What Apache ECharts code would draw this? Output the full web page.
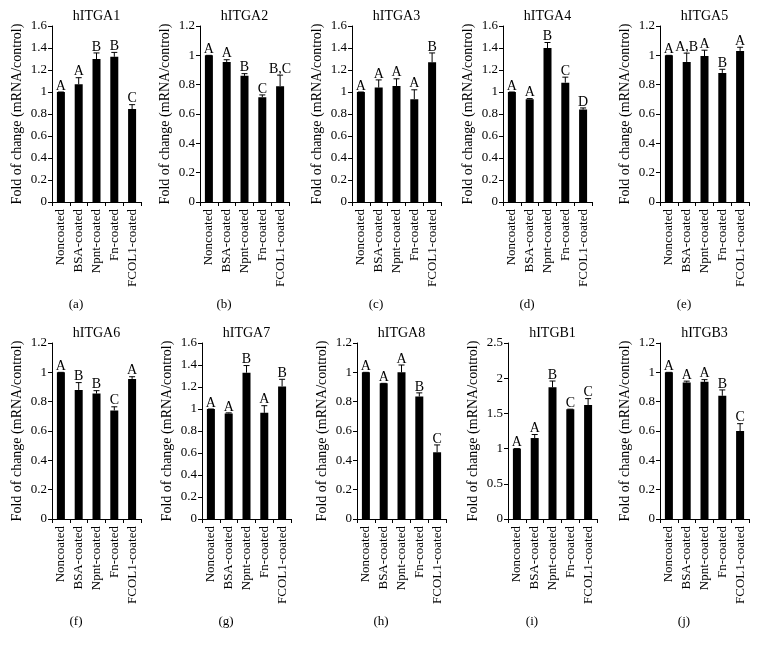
<!DOCTYPE html>
<html><head><meta charset="utf-8">
<script src="https://cdn.jsdelivr.net/npm/echarts@6/dist/echarts.min.js"></script>
<style>html,body{margin:0;padding:0;background:#fff}#c{width:758px;height:649px}</style>
</head><body><div id="c"></div>
<script>
const categories = ['Noncoated','BSA-coated','Npnt-coated','Fn-coated','FCOL1-coated'];
const genes = ['hITGA1','hITGA2','hITGA3','hITGA4','hITGA5','hITGA6','hITGA7','hITGA8','hITGB1','hITGB3'];
const panelLabels = ['(a)','(b)','(c)','(d)','(e)','(f)','(g)','(h)','(i)','(j)'];
const yMax = [1.6,1.2,1.6,1.6,1.2,1.2,1.6,1.2,2.5,1.2];
const yInterval = [0.2,0.2,0.2,0.2,0.2,0.2,0.2,0.2,0.5,0.2];

const hITGA1_mean = [1.0,1.07,1.30,1.32,0.845];
const hITGA1_err  = [1.0,1.13,1.355,1.36,0.885];
const hITGA1_sig  = ['A','A','B','B','C'];
const hITGA2_mean = [1.0,0.955,0.86,0.715,0.79];
const hITGA2_err  = [1.0,0.97,0.875,0.73,0.865];
const hITGA2_sig  = ['A','A','B','C','B,C'];
const hITGA3_mean = [1.0,1.04,1.055,0.935,1.27];
const hITGA3_err  = [1.0,1.11,1.12,1.02,1.355];
const hITGA3_sig  = ['A','A','A','A','B'];
const hITGA4_mean = [1.0,0.935,1.40,1.085,0.84];
const hITGA4_err  = [1.0,0.94,1.45,1.135,0.855];
const hITGA4_sig  = ['A','A','B','C','D'];
const hITGA5_mean = [1.0,0.955,0.995,0.88,1.03];
const hITGA5_err  = [1.0,1.015,1.035,0.905,1.055];
const hITGA5_sig  = ['A','A,B','A','B','A'];
const hITGA6_mean = [1.0,0.88,0.855,0.74,0.955];
const hITGA6_err  = [1.0,0.93,0.875,0.765,0.97];
const hITGA6_sig  = ['A','B','B','C','A'];
const hITGA7_mean = [1.0,0.96,1.33,0.965,1.205];
const hITGA7_err  = [1.0,0.965,1.395,1.03,1.27];
const hITGA7_sig  = ['A','A','B','A','B'];
const hITGA8_mean = [1.0,0.925,1.0,0.835,0.455];
const hITGA8_err  = [1.0,0.925,1.05,0.86,0.505];
const hITGA8_sig  = ['A','A','A','B','C'];
const hITGB1_mean = [1.0,1.15,1.87,1.56,1.62];
const hITGB1_err  = [1.0,1.20,1.96,1.56,1.71];
const hITGB1_sig  = ['A','A','B','C','C'];
const hITGB3_mean = [1.0,0.93,0.935,0.84,0.60];
const hITGB3_err  = [1.0,0.94,0.95,0.88,0.65];
const hITGB3_sig  = ['A','A','A','B','C'];

const means = [hITGA1_mean,hITGA2_mean,hITGA3_mean,hITGA4_mean,hITGA5_mean,hITGA6_mean,hITGA7_mean,hITGA8_mean,hITGB1_mean,hITGB3_mean];
const errs = [hITGA1_err,hITGA2_err,hITGA3_err,hITGA4_err,hITGA5_err,hITGA6_err,hITGA7_err,hITGA8_err,hITGB1_err,hITGB3_err];
const sigs = [hITGA1_sig,hITGA2_sig,hITGA3_sig,hITGA4_sig,hITGA5_sig,hITGA6_sig,hITGA7_sig,hITGA8_sig,hITGB1_sig,hITGB3_sig];

// layout
const axisX = [52,200,352,503,660,52,202,357,508,660];
const rowTop = [26,343];
const plotH = 176, plotW = 89;
const FONT = '"Liberation Serif","DejaVu Serif",serif';

const grid=[], xAxis=[], yAxis=[], series=[], graphic=[];
genes.forEach((g,i)=>{
  const top = rowTop[i<5?0:1];
  grid.push({left:axisX[i], top:top, width:plotW, height:plotH, containLabel:false});
  xAxis.push({type:'category', gridIndex:i, data:categories,
    axisLine:{show:true,lineStyle:{color:'#000',width:1}},
    axisTick:{show:true,alignWithLabel:false,length:4,lineStyle:{color:'#000'}},
    axisLabel:{rotate:90,color:'#000',fontFamily:FONT,fontSize:13,margin:7,interval:0},
    splitLine:{show:false}});
  yAxis.push({type:'value', gridIndex:i, min:0, max:yMax[i], interval:yInterval[i],
    axisLine:{show:true,lineStyle:{color:'#000',width:1}},
    axisTick:{show:true,length:4,lineStyle:{color:'#000'}},
    axisLabel:{color:'#000',fontFamily:FONT,fontSize:13,margin:5},
    splitLine:{show:false},
    name:'Fold of change (mRNA/control)', nameLocation:'middle', nameGap:28,
    nameTextStyle:{color:'#000',fontFamily:FONT,fontSize:14}});
  series.push({type:'bar', xAxisIndex:i, yAxisIndex:i, data:means[i], barWidth:8,
    itemStyle:{color:'#000'}, silent:true, animation:false});
  const m = means[i], e = errs[i], s = sigs[i];
  series.push({type:'custom', xAxisIndex:i, yAxisIndex:i, z:5, animation:false, silent:true,
    data:m.map((v,j)=>[j,v,e[j]]),
    renderItem:(params,api)=>{
      const p0 = api.coord([api.value(0),api.value(1)]);
      const p1 = api.coord([api.value(0),api.value(2)]);
      const cap = 3;
      return {type:'group',children:[
        {type:'line',shape:{x1:p0[0],y1:p0[1],x2:p0[0],y2:p1[1]},style:{stroke:'#000',lineWidth:1}},
        {type:'line',shape:{x1:p0[0]-cap,y1:p1[1],x2:p0[0]+cap,y2:p1[1]},style:{stroke:'#000',lineWidth:1}},
        {type:'text',x:p0[0],y:p1[1]+1,style:{text:s[params.dataIndex],textAlign:'center',textVerticalAlign:'bottom',font:'14px '+FONT,fill:'#000'}}
      ]};
    }});
  graphic.push({type:'text', x:axisX[i]+plotW/2, y:top-10, style:{text:g,textAlign:'center',textVerticalAlign:'middle',font:'14px '+FONT,fill:'#000'}});
  graphic.push({type:'text', x:axisX[i]+24, y:top+279, style:{text:panelLabels[i],textAlign:'center',textVerticalAlign:'middle',font:'13px '+FONT,fill:'#000'}});
});

const chart = echarts.init(document.getElementById('c'),null,{renderer:'canvas'});
chart.setOption({backgroundColor:'#fff',animation:false,grid,xAxis,yAxis,series,graphic});
</script></body></html>
